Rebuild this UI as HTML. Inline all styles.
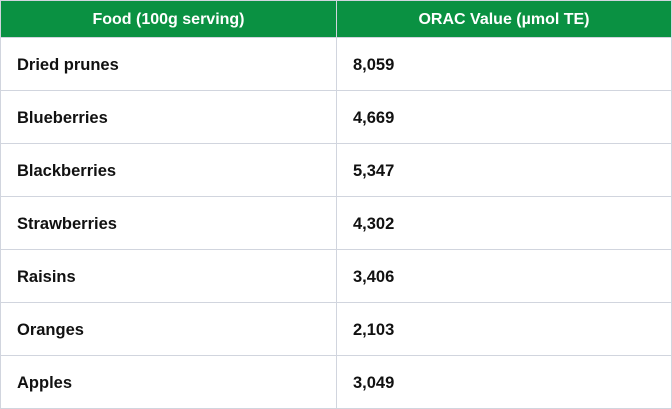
<!DOCTYPE html>
<html><head><style>
html,body{margin:0;padding:0;background:#fff;}
table{border-collapse:collapse;width:672px;table-layout:fixed;font-family:"Liberation Sans",Arial,sans-serif;font-weight:bold;color:#111;}
td,th{border:1px solid #d1d5de;padding:3px 0 0 16px;font-size:16.5px;text-align:left;}
td{height:49px;}
th{background:#0a9142;color:#fff;height:35px;text-align:center;padding:1px 0 0 0;font-size:16px;border-color:#d1d5de;}
col.a{width:336px}
</style></head><body>
<table>
<col class="a"><col>
<tr><th>Food (100g serving)</th><th>ORAC Value (µmol TE)</th></tr>
<tr><td>Dried prunes</td><td>8,059</td></tr>
<tr><td>Blueberries</td><td>4,669</td></tr>
<tr><td>Blackberries</td><td>5,347</td></tr>
<tr><td>Strawberries</td><td>4,302</td></tr>
<tr><td>Raisins</td><td>3,406</td></tr>
<tr><td>Oranges</td><td>2,103</td></tr>
<tr><td>Apples</td><td>3,049</td></tr>
</table>
</body></html>
